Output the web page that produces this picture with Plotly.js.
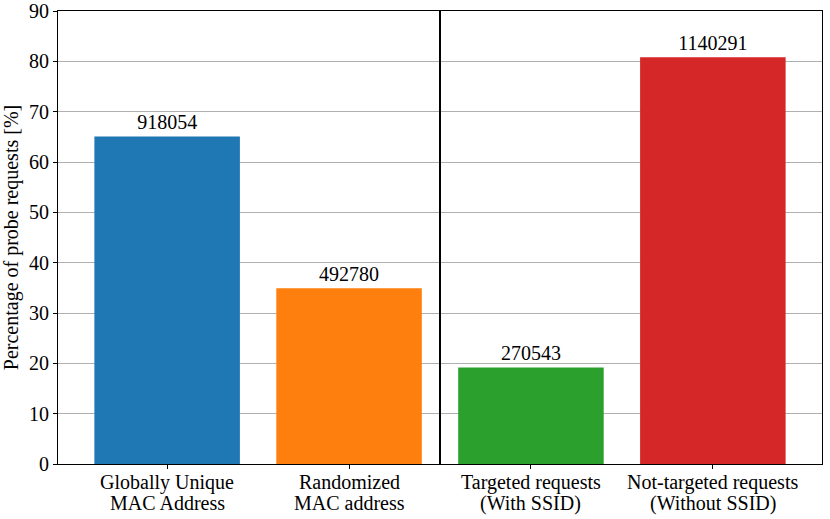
<!DOCTYPE html>
<html>
<head>
<meta charset="utf-8">
<script src="https://cdn.plot.ly/plotly-3.0.1.min.js"></script>
<style>body{margin:0;background:#fff}#chart{width:830px;height:519px}</style>
</head>
<body>
<div id="chart"></div>
<script>
// etiquetas en dos lineas (como anotaciones para controlar el interlineado)
var linea1 = ['Globally Unique', 'Randomized', 'Targeted requests', 'Not-targeted requests'];
var linea2 = ['MAC Address', 'MAC address', '(With SSID)', '(Without SSID)'];
var porcentajes = [65.07, 34.93, 19.18, 80.82];
var conteos = [918054, 492780, 270543, 1140291];
var colores = ['#1f77b4', '#ff7f0e', '#2ca02c', '#d62728'];
var separador = 1.5; // entre MAC y tipo de request

var familia = 'Liberation Serif, Times New Roman, serif';
var fuente = {family: familia, size: 20, color: '#000'};
var posiciones = linea1.map(function(_, i){ return i; });

var trace = {
  x: posiciones,
  y: porcentajes,
  type: 'bar',
  width: 0.8,
  marker: {color: colores},
  text: conteos.map(String),
  textposition: 'outside',
  textfont: fuente,
  cliponaxis: false,
  hoverinfo: 'none'
};

function etiqueta(t, i, desplazamiento){
  return {
    text: t, x: i, y: 0, xref: 'x', yref: 'paper',
    xanchor: 'center', yanchor: 'top', yshift: desplazamiento,
    showarrow: false, font: fuente
  };
}
var anotaciones = [];
linea1.forEach(function(t, i){ anotaciones.push(etiqueta(t, i, -5)); });
linea2.forEach(function(t, i){ anotaciones.push(etiqueta(t, i, -26)); });

var layout = {
  width: 830, height: 519,
  margin: {l: 58, r: 8, t: 11, b: 55},
  font: fuente,
  paper_bgcolor: '#fff', plot_bgcolor: '#fff',
  showlegend: false,
  xaxis: {
    range: [-0.6, 3.6],
    tickvals: posiciones,
    showticklabels: false,
    ticks: 'outside', ticklen: 4, tickcolor: '#000',
    showgrid: false, zeroline: false,
    showline: true, linecolor: '#000', linewidth: 1, mirror: true
  },
  yaxis: {
    range: [0, 90],
    dtick: 10,
    ticks: 'outside', ticklen: 4, tickcolor: '#000',
    showgrid: true, gridcolor: '#b0b0b0', gridwidth: 1,
    zeroline: false,
    showline: true, linecolor: '#000', linewidth: 1, mirror: true,
    tickfont: fuente,
    title: {text: 'Percentage of probe requests [%]', font: fuente, standoff: 7}
  },
  annotations: anotaciones,
  shapes: [{
    type: 'line', xref: 'x', yref: 'paper',
    x0: separador, x1: separador, y0: 0, y1: 1,
    line: {color: '#000', width: 2}
  }]
};

Plotly.newPlot('chart', [trace], layout, {staticPlot: true});
</script>
</body>
</html>
